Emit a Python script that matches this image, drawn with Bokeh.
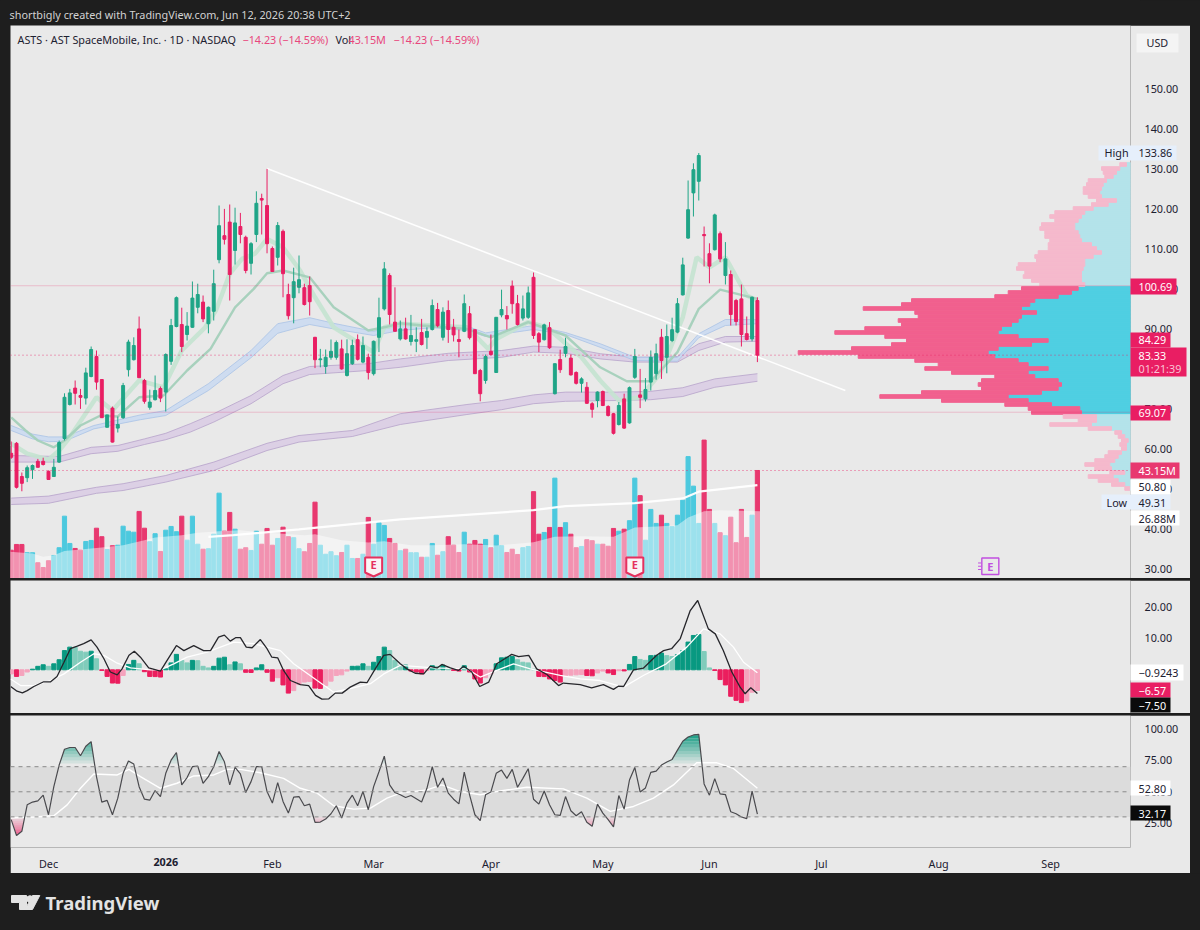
import numpy as np
from bokeh.core.properties import value
from bokeh.embed import file_html
from bokeh.layouts import column
from bokeh.models import (ColumnDataSource, FixedTicker, Label, PrintfTickFormatter,
                          Range1d, Span)
from bokeh.plotting import figure
from bokeh.resources import INLINE

FONT = "Noto Sans"
FS = "10.8px"

bar_index = list(range(-7, 134))
opens = [58.8,61.3,53,52.7,54.7,56.8,56.8,54.3,53,56.6,62.5,71,75.1,73.25,72.6,78,83,77.25,65.3,70.1,65.1,67.7,79.7,82.2,89.9,77,70.3,72.2,75,74.1,81.8,90.5,91,88.5,90.3,95.3,96.6,91.2,94.3,107.2,113.2,116.6,109.5,115.5,112.8,106.3,113.5,122.5,120.75,110,107.8,114.3,98.5,97.7,100.3,100.2,100.75,87.8,82.2,80.5,82.8,82.8,84.9,78.25,81.2,87.2,81.6,82.8,78.7,87.8,94.9,103.25,91.6,87.4,89.9,86.75,86.8,89,87.8,89.75,94.75,87.8,94.5,90.3,87.25,89.3,93.7,89.7,79.5,77,84.3,79,93.4,93.25,100.6,96.2,92.6,92.8,102.8,88.7,87.2,90.2,73.7,82.25,83.8,82.6,79,76.3,75.3,71.2,72,74.25,70.5,68.7,66,72.4,66.4,77.8,73.4,72.4,76.6,78.7,87.8,82.8,87,89.1,98.4,112.6,123.9,126.8,113.5,108.7,109.7,113.7,103.25,103.5,97,97.4,88.7,87.4,97]
highs = [61.75,61.6,54,55.75,56,57.4,57.7,54.5,57.4,62,73.8,74.9,77,74.9,80.2,85.5,84.5,77.25,68.4,70.5,68,76.4,87.2,87.8,93,77.4,74.7,78.25,75.5,83.8,92.4,98,95.2,94.1,101.75,101.2,98.25,95.5,104.7,120.75,119.9,121,120.2,118.9,113.2,111.6,124.3,123.7,129.9,110.5,116.6,114.75,101.2,105.2,108.25,101.2,103,87.9,84.9,84.75,87.25,87,87.2,87.3,87.2,88.5,88,83.7,87,97.7,106.6,103.8,100.3,92,92.7,93.4,90.3,92.4,90.3,97.25,96.4,95.3,97,92.4,89.75,98.5,95.6,89.7,79.9,83.5,88.5,92.8,99.7,95.6,102,98.4,98.25,100.5,104,89.1,91.2,91.6,81.2,84.7,87.7,83.5,79.3,77.8,76.6,71.6,74.3,74.5,70.8,68.9,71.6,73.7,75.5,84.9,79.9,77.6,84.5,86.2,89.9,91,92.7,97.6,107.7,127,131.3,133.86,115.5,111.3,118.7,114.25,111.6,104.5,97.4,101,93,98,97.8]
lows = [57.4,50,49.31,51.6,52.4,55.3,55.75,52.25,53,56.4,62,70.75,71,69.9,71,77.8,74.7,67.7,65.3,61.5,64,67.4,78,82,77.7,71.2,69.7,72,71.6,69.25,80.9,90.3,84.1,87,90.2,93.8,91.6,88.8,92,106.3,111,97,106,111.3,103.8,103.5,111.6,113.5,108.8,104.25,105.75,97.8,92.25,91.3,98.8,95.75,93.25,80.1,80.3,78.7,82.2,82.2,79.7,78,80.9,82,81.3,77.25,78.25,84.1,94.5,91,89.3,87,87.2,85.75,84.1,85.75,84.9,89.5,90.3,87,86.4,86.75,82.8,89.1,87.25,78.7,71.8,76.2,83.25,79,92.8,89.75,93.7,90.75,92,92.4,87.4,84.1,87,84.9,73.5,78.9,82.8,78.25,76,74,71.2,67.7,70.3,70.6,68,63.5,65.75,64.9,66.2,77.4,70.1,71.75,74.5,77.2,77.4,78.8,86.6,88.8,98.25,112.4,118,122,105.5,101.3,109.5,106.6,101,90.75,90.75,85.5,87,86.8,81.6]
closes = [57.8,50.3,51.3,55.2,55.75,55.3,56,52.25,55.3,61.5,72.8,73.9,73.8,72.8,78.9,84.75,76.6,67.7,68.4,61.6,66,75.75,86.6,85.75,77.7,71.8,71.6,74.5,72.6,83.5,90.75,97.7,85.5,90.6,97.6,98.5,92.4,95.3,101.2,115.7,112.3,103.5,116.4,113.5,104.5,111.2,121.3,122.1,111.2,104.25,115.75,103.7,93.2,101.7,102.2,96,96.7,82.2,82.4,82.8,84.3,86.5,79.9,83.7,85.75,82.3,85.75,79,86.8,92.7,104.9,93.5,89.3,89.9,87.4,88.25,87.2,86,89.25,95.75,90.7,94.1,89.75,88.4,86.75,96.2,87.7,78.7,73.7,83,83.5,92.8,94.75,92.4,96.2,91,94.9,98.9,88.25,86.6,90.9,85.2,81.2,79.7,85.5,78.4,76.3,77.4,71.3,69.8,74.1,70.75,68.25,63.8,70.75,65.1,75.2,83,72.8,74.75,82.8,83.7,82,88,89.7,96.2,105.9,119.7,129.7,133.25,113.2,105.6,118.4,107.4,107.4,93.5,91.75,88.5,87.25,97.8,83.33]
volumes = [11.3,13.6,13.6,10.3,10.3,6.3,4.4,7.1,9.2,12.3,24.9,14,12,11.3,14.8,15.2,20.1,16.7,11.6,13.1,13.3,20.9,18.9,18.5,26.8,20.1,14.7,17.9,10.8,19.3,20.8,18.7,24.9,15.3,24.9,13.7,11.7,11.9,17.7,34.1,18.9,26.4,19.7,11.7,12.3,11.2,18.9,13.7,20,13.3,16,20.5,16.7,16.3,11.9,10.7,14,30.5,13.3,9.7,10.7,9.1,10.4,13.3,8,8,9.7,24.4,13.7,22.3,21.2,16,14,11.1,11.7,10.3,10.3,8.5,8.5,14,9.3,10.7,16.7,13.3,10.4,18.5,13.7,15.2,13.7,15.6,12.3,17.3,13.1,10.4,11.7,9.6,12.3,12.8,34.7,17.7,18.4,20.4,40.1,20.4,22.3,17.7,12.3,12.8,15.5,15.1,13.7,13.7,12.9,20,18.9,19.7,23.1,40.1,33.1,15.3,27.6,22,25.3,22,20.7,25.3,31.3,48.7,36.9,22,55.3,27.6,22,18.3,17.1,24.5,14.3,27.6,16.4,25.3,43.15]

vol_ma_x = [-7.5,-3,-1,1,3,6,10,14,18,20,25,28,32,36,40,44,48,50,55,60,63,68,72,78,84,91,95,100,106,110,115,118,120,123,126,130,133.5]
vol_ma_y = [10.7,10,8.7,9.3,11,11.6,12.4,13.3,15.3,16.4,17.3,18.3,18.9,19.3,18.4,17.9,17.3,17.7,15.3,14.4,14.9,13.3,13.3,13.7,13.2,14.5,16.7,16.9,16.7,20.4,20.9,21.3,24.4,26.9,27.3,27.1,26.88]
vol_long_x = [30,34.7,47,66,91,97,110,119,122,133]
vol_long_y = [16.6,17.3,19.6,23.6,27.3,28.9,30.1,32,34.7,37.3]

fast_x = [-7,-4,0,2,4,9,12,17,21.6,25,29.4,31.4,34,36.3,38.75,41,44,47.2,50,53.5,61,63,66,72,78.5,82.5,84,90,93.5,100,103.5,107,111,114.75,119,121.6,124,127,131,133]
fast_y = [61.2,58.7,57.2,59.5,62.8,72.8,69.5,77,75.3,84.5,90.3,94.5,103.7,107.4,108.7,112.4,110.3,104.5,97.8,90.3,84.1,90.3,91.2,90.75,90.3,84.9,87.4,91.6,90.3,82.8,77,72,72.8,78.7,92.8,107.8,105.3,107.8,98.25,97]
mid_x = [-7,-4.3,-2,1,3,6,9.75,13,17,21.6,26,30.4,35,38.5,41,44,49,53.5,60,63,66,70,78.5,83,90,97,103.5,108.5,113,118,122,126,133]
mid_y = [67.8,64.5,62,60.3,62,65.75,68.25,68,72.8,73.25,79.5,84.9,95.3,99.9,103.8,104.5,102.8,95.3,89.5,90.3,91.3,90.75,89.9,87.8,91.6,88.25,80.3,76.8,76.8,84.1,94.9,99.7,97.4]
blue_x = [-7,-3,0,3,8.5,17.25,22,30,38,43,49,53.5,61,66,72,78.5,82,91,97,103.5,110,118,122,127,133]
blue_hi = [65.75,63.6,62.9,62.9,65.75,68.4,69.5,76.2,84.5,91.2,92.7,91.3,89.3,90.75,91,90.6,88.9,90.75,89,86.2,82.8,82.8,88.7,92.25,92.2]
blue_lo = [64.5,62.4,61.7,61.8,64.9,67.2,68.25,74.5,82.7,88.8,91,89.9,88.25,89.5,90.2,89.5,88,89.75,88.5,85.3,82,81.8,87.7,90.75,91.2]
ma100_x = [-7,2,8,13,18,22,26.6,31,38,44,49,60,66,75,85,91,97,103.5,110,118,122,127,133]
ma100_hi = [58.25,58,60.3,60.75,62.4,63.8,66.2,68.7,73.25,78.25,80.5,81.2,82.4,83.8,84.5,85.6,85.3,83.7,82.8,83,86.2,88,88]
ma100_lo = [56.6,56.6,58.7,59.3,61,62.2,64.1,66.6,71.2,76.2,78.5,79.5,80.3,82,82.8,84.1,83.8,82.4,81.6,81.6,84.5,86.6,86.8]
ma200_x = [-7,0,4,9,14,22,31,41,47,57,66,78.5,85,91,97,106.6,113,119,125,133]
ma200_hi = [47.6,48.1,49.1,50.3,51.2,53.25,56.6,61.3,63.25,64.5,68.7,71,72,73.4,74.1,74.1,74.3,75.2,77.4,78.7]
ma200_lo = [46,46.3,47.4,48.8,49.5,51.6,54.5,59.5,61.6,63,66,68.5,69.7,71.2,71.8,72,72.2,73,75.3,76.8]

trend_x = [41, 149.5]
trend_y = [130, 74.5]

vp_rows = list(range(131, 49, -1))
vp_total = [10.7,29,27.3,25.7,42.3,44,47.3,47.3,42.3,34,39,57.3,75.7,80.7,75.7,89,90.7,85.7,85.7,80.7,82.3,82.3,92.3,95.7,94,112.3,114,105.7,107.3,99,90.7,109,122.3,135.7,219,229,267.3,215.7,212.3,232.3,229,265.7,295.7,245.7,224,239,279,332.3,272.3,215.7,192.3,205.7,179,135.7,149,152.3,149,209,250.7,189,125.7,102.3,99,67.3,52.3,80.7,42.3,15.7,12.3,9,10.7,9,22.3,25.7,35.7,45.7,35.7,20.7,42.3,32.3,19,5.7]
vp_up = [4,10.7,14,17.3,24,27.3,29,30.7,29,14,22.3,37.3,45.7,49,52.3,55.7,55.7,52.3,50.7,49,39,34,29,37.3,45.7,45.7,47.3,49,49,49,45.7,52.3,59,72.3,95.7,100.7,109,94,109,112.3,119,129,132.3,112.3,82.3,99,132.3,142.3,135.7,112.3,102.3,82.3,102.3,95.7,72.3,69,72.3,89,122.3,102.3,79,50.7,49,34,34,39,19,9,5.7,2.3,4,4,9,12.3,15.7,20.7,19,5.7,17.3,12.3,5.7,0.7]

macd_hist = [-1.3,-2.1,-1.8,-0.7,0.2,1.1,1.6,1.1,1.9,3.2,6.1,7.2,7.1,5.9,5.6,5.9,3.5,-0.2,-2.1,-4.2,-4.25,-1.8,1.7,3,1.9,-0.6,-2.1,-2.15,-2.3,0.3,2.2,4.9,3,2.2,3,2.9,1.1,0.6,1.1,3.7,4,1.6,2.5,1.9,-0.8,-0.85,0.6,1.6,-0.8,-3.6,-2.5,-4.8,-7.4,-6.6,-4.7,-3.9,-3.7,-5.8,-5.9,-5,-3.6,-1.8,-1.6,-0.4,1.1,1.15,1.9,1.1,2.4,4.2,7.2,6.1,3,1.4,1.5,-0.4,-0.7,-1.3,-0.2,1.3,1,1.5,0.6,-0.2,-0.4,1.3,-0.7,-2.9,-4.2,-2.5,-1.3,1.9,3.8,4,4.2,3.2,2.4,2.2,0.2,-2.1,-2.15,-2.9,-3.4,-3.9,-1.8,-1.7,-1.6,-1.5,-1.8,-1.9,-1,-0.4,-1,-1.5,-0.3,-0.35,1.7,4.2,3.3,3,4.5,4.6,5.3,4.5,4.2,4.8,6.1,8.8,10.9,11.2,5.8,0.6,-0.2,-3.1,-4.8,-8.4,-9.7,-10.4,-9.9,-7.1,-6.57]
macd_x = [-7.1,-5.9,-4.9,-4,-2.75,-0.9,0.4,1.6,2.9,4.1,5.4,6.6,8,9.1,10.4,11.6,12.9,13.8,15.1,16.1,17.25,18.8,21,22.25,24,25.4,27.25,29.1,30.4,31.9,33,34.1,35.1,36,37.1,38.2,39.75,41,41.9,43,44.1,45.4,47.25,48.8,50.1,51.3,52.6,53.8,55.1,56.6,58.5,59.75,61.3,62.9,64.1,66,67.25,68.8,70.4,71.6,72.9,73.8,75.4,76.9,77.9,79.4,80.9,82.6,84.1,86.9,88.2,90.1,91.6,93.5,95.7,96.6,99.75,101.9,104.1,106,106.9,107.9,109.75,111.6,114.1,115.4,116.9,118.5,120.4,121.8,123.8,125.1,126.6,128.2,129.75,130.7,131.75,133]
macd_y = [-5.3,-6.8,-7.3,-6.6,-5.3,-3.8,-3.8,-2.1,2.4,6.7,7.5,8.3,9.5,7.2,3.5,-0.7,-1.6,0.3,4.6,5.9,4,0.6,-0.4,3,7.7,6.1,7.7,6.1,6.1,10.4,11,9.1,10.2,10.2,7.2,7,9.6,6.7,4,3.8,-0.2,-3.4,-4.7,-5,-8.1,-9.3,-9.2,-7.4,-7.4,-5.5,-3.9,-4.1,0.3,4.6,4.9,1.9,0.3,-1.1,-1.3,1.1,0.6,1.7,0.6,-0.2,1.1,-0.7,-5.3,-3.9,1.9,4.9,4.2,4.6,0.3,-1.5,-5,-4.2,-4.7,-5.7,-4.7,-6.2,-5.2,-5.3,0,0.5,4.6,6.1,6.7,9.8,18.8,22,13,11.4,6.1,-0.7,-5.5,-7.6,-5.7,-7.5]
signal_x = [-7.1,-5.25,-2.75,0.4,2.9,6,8.5,10.4,12.9,15.4,19.1,21,23.5,26,29.75,34.75,38.5,43.5,46,50.4,53.5,56.6,60.4,62.9,66,72.25,78.5,81,84.1,87.25,90.4,96,99.75,103.5,107.9,111.6,115.9,119.75,122.9,126,128.5,130.4,133]
signal_y = [-2.9,-5,-5,-3.4,-1.3,2.4,5.1,4.6,2.1,0.6,0,0,1.9,4,5.6,8.8,8.3,6.1,1.9,-3.4,-7.1,-6,-4.4,-1.3,1.4,0.6,0.3,-2.3,-0.2,1.9,0.3,-1.8,-2.9,-3.4,-5.5,-1.8,1.9,7.2,13,11.4,7.2,2.4,-0.92]

rsi = [27.8,15.1,18.5,39.6,41.8,42.8,47.3,31.7,54.1,71.3,83.9,85.3,85.3,78.7,86.3,90,62.1,41.8,43.1,31.7,44.9,64.7,74.5,72.1,54.1,44.1,43.3,51,46.2,64.7,75.2,81.3,55.5,61.3,70,70.5,56.8,62.1,70,82.1,73.9,55.5,69.4,64.2,49.4,58.1,70,70,50.2,41,57.3,42.3,33,45.7,46.2,38.9,40.2,25.7,25.9,28.3,32.5,38.9,29.1,41,47.3,38.9,50.2,35.7,54.1,66,78.4,55.5,49.4,47.6,45.4,47,44.4,41.8,52.8,70,53.6,61,48.9,44.1,40.4,65.7,47.6,31.7,27,47.6,49.9,64.7,67.3,60.7,67.9,53.6,60.7,68.4,44.1,40.2,50.7,39.6,31.7,31.2,46.2,34.9,30.9,34.1,25.7,22.5,40.2,33,27.8,22,47,36.2,59.4,69.4,49.9,53.1,65.5,66.5,71.3,73.7,75.8,83.2,90.3,93.7,95.3,95.8,56.3,47.3,60.5,48.3,47.8,34.1,32.5,29.9,28.6,50.5,32.17]
rsi_ma_x = [-7.1,-2.75,1,3.5,6,8.5,12.9,15.1,17.25,21,24.1,27.25,31,33.5,36,39.75,44.1,47.25,50.4,53.5,57.25,60.4,63.5,66,71,73.8,77.25,81,84.75,89.75,96.6,101,105.4,109.75,113.5,117.25,121.6,125.4,128.5,133]
rsi_ma_y = [29.1,29.9,30.9,39.6,52.8,64.2,63.4,67.9,62.1,52.8,56.8,62.6,63.4,67.9,67.9,65.2,60.7,52.8,48.9,38.9,36.2,37,44.9,48.9,51.5,55.5,50.2,47.6,50.7,53.6,52.3,44.9,34.4,38.3,44.9,55.5,73.1,73.1,68.6,52.8]

time_ticks = [0, 42, 61, 83, 104, 124, 145, 167, 188]
time_labels = ["Dec", "Feb", "Mar", "Apr", "May", "Jun", "Jul", "Aug", "Sep"]
year_tick = 22
year_label = "2026"
price_ticks = list(range(30, 160, 10))
macd_ticks = [10, 20]
rsi_ticks = [25, 50, 75, 100]
earnings_bars = [61, 110]
future_earnings_bar = 176.7

BG = "#e9e9e9"; DARK = "#1e1e1e"; UP = "#1fa587"; DOWN = "#e91e63"
VOL_UP = "#4cc9de"; VOL_DOWN = "#e8386f"; TEXT = "#1c2030"
XR = (-7.13, 203.0)
PX_PER_BAR = 5.33
PX_PER_VOL = 2.503


def panel(height, yr, ticks, fmt, border_bottom=0, top_margin=0):
    f = figure(width=1180, height=height, x_range=Range1d(*XR), y_range=Range1d(*yr),
               y_axis_location="right", x_axis_location=None if border_bottom == 0 else "below",
               output_backend="svg", toolbar_location=None, background_fill_color=BG,
               border_fill_color=BG, outline_line_color=None, min_border_left=0,
               min_border_right=60, min_border_top=0, min_border_bottom=border_bottom,
               margin=(top_margin, 0, 0, 10))
    f.grid.visible = False
    ax = f.yaxis[0]
    ax.ticker = FixedTicker(ticks=ticks)
    ax.formatter = PrintfTickFormatter(format=fmt)
    ax.axis_line_color = None
    ax.major_tick_line_color = None
    ax.minor_tick_line_color = None
    ax.major_label_standoff = 8
    ax.major_label_text_font = FONT
    ax.major_label_text_font_size = FS
    ax.major_label_text_color = TEXT
    return f


# ------------------------------------------------------------------ header
# the column aligns every figure's frame to the panes' 60 px right border, hence 0..1140
head = figure(width=1200, height=25, x_range=Range1d(0, 1140), y_range=Range1d(25, 0),
              x_axis_location=None, y_axis_location=None, output_backend="svg",
              toolbar_location=None, background_fill_color=DARK, border_fill_color=DARK,
              outline_line_color=None, min_border=0)
head.grid.visible = False
head.text([9], [14], text=["shortbigly created with TradingView.com, Jun 12, 2026 20:38 UTC+2"],
          text_font=value(FONT), text_font_size="10.85px", text_color="#d2d2d2",
          text_baseline="middle")

# ------------------------------------------------------------------ price pane
price = panel(553, (27.5, 165.75), price_ticks, "%.2f")
price.extra_y_ranges = {"vol": Range1d(0, 553 / PX_PER_VOL)}
price.extra_x_ranges = {"vp": Range1d(1120, 0)}

x = np.array(bar_index, float)
o, h, l, c, vol = map(np.array, (opens, highs, lows, closes, volumes))
rising = c >= o

# volume profile
rows = np.array(vp_rows, float)
tot, up = np.array(vp_total), np.array(vp_up)
value_area = (rows >= 69) & (rows <= 100)
vp = ColumnDataSource(dict(y=rows, up=up, tot=tot,
                           cu=np.where(value_area, "#4fcfe2", "#b4e3ea"),
                           cd=np.where(value_area, "#f1608e", "#f5b9cc")))
price.hbar(y="y", left=0, right="up", height=0.92, color="cu", source=vp, x_range_name="vp")
price.hbar(y="y", left="up", right="tot", height=0.92, color="cd", source=vp, x_range_name="vp")

# volume
vs = ColumnDataSource(dict(x=x, top=vol, color=np.where(rising, VOL_UP, VOL_DOWN)))
price.vbar(x="x", top="top", bottom=0, width=0.78, color="color", source=vs, y_range_name="vol")
price.varea(vol_ma_x, y1=0, y2=vol_ma_y, color="white", alpha=0.45, y_range_name="vol")
price.line(vol_long_x, vol_long_y, color="white", line_width=2.2, alpha=0.95, y_range_name="vol")

# levels
for lvl in (100.69, 69.07):
    price.add_layout(Span(location=lvl, dimension="width", line_color="#e91e63", line_alpha=0.22,
                          line_width=1))
price.add_layout(Span(location=83.33, dimension="width", line_color="#e91e63", line_alpha=0.75,
                      line_width=1, line_dash="1 3"))
price.add_layout(Span(location=43.15, dimension="width", y_range_name="vol", line_color="#e91e63",
                      line_alpha=0.75, line_width=1, line_dash="1 3"))

# averages
for bx, hi, lo, fill, edge in ((ma200_x, ma200_hi, ma200_lo, "#d9cbe4", "#b7a3cb"),
                               (ma100_x, ma100_hi, ma100_lo, "#d9cbe4", "#b7a3cb"),
                               (blue_x, blue_hi, blue_lo, "#c9d9f1", "#aac3e6")):
    price.varea(bx, y1=lo, y2=hi, color=fill, alpha=0.85)
    price.line(bx, hi, color=edge, line_width=1, alpha=0.8)
    price.line(bx, lo, color=edge, line_width=1, alpha=0.8)
price.line(fast_x, fast_y, color="#c4e3d0", line_width=4.5, alpha=0.9)
price.line(mid_x, mid_y, color="#a4d0bb", line_width=2.4, alpha=0.95)
price.line(trend_x, trend_y, color="white", line_width=1.6, alpha=0.95)

# candles
cs = ColumnDataSource(dict(x=x, o=o, h=h, l=l, c=c, top=np.maximum(o, c), bot=np.minimum(o, c),
                           color=np.where(rising, UP, DOWN)))
price.segment("x", "h", "x", "l", color="color", line_width=1, source=cs)
price.vbar(x="x", top="top", bottom="bot", width=0.55, color="color", source=cs)


def shield(bar, color, fill, text):
    dx = 8.5 / PX_PER_BAR
    top, mid, tip = 21 / PX_PER_VOL, 6 / PX_PER_VOL, 2 / PX_PER_VOL
    price.patch([bar - dx, bar + dx, bar + dx, bar, bar - dx], [top, top, mid, tip, mid],
                fill_color=fill, line_color=color, line_width=2, y_range_name="vol")
    price.text([bar], [(top + tip) / 2 + 1], text=[text], text_color=color, text_align="center",
               text_baseline="middle", text_font=value(FONT), text_font_style="bold",
               text_font_size="11px", y_range_name="vol")


for b in earnings_bars:
    shield(b, "#e5315f", "#fbf3f5", "E")
fx = future_earnings_bar
dxf = 8.5 / PX_PER_BAR
price.patch([fx - dxf, fx + dxf, fx + dxf, fx - dxf], [1.6, 1.6, 8.2, 8.2], fill_color=None,
            line_color="#c14fe0", line_width=1.4, y_range_name="vol")
price.text([fx], [4.9], text=["E"], text_color="#c14fe0", text_align="center",
           text_baseline="middle", text_font=value(FONT), text_font_style="bold",
           text_font_size="11px", y_range_name="vol")
for yy in (3.6, 4.9, 6.2):
    price.line([fx - 2.3, fx - 1.7], [yy, yy], color="#c14fe0", line_width=1, y_range_name="vol")

# legend
for txt, px, col in (("ASTS · AST SpaceMobile, Inc. · 1D · NASDAQ", 7, TEXT),
                     ("−14.23 (−14.59%)", 232, "#e8467c"), ("Vol", 325, TEXT),
                     ("43.15M", 338, "#e8467c"), ("−14.23 (−14.59%)", 383, "#e8467c")):
    price.add_layout(Label(x=px, y=553 - 14, x_units="screen", y_units="screen", text=txt,
                           text_font=FONT, text_font_size=FS, text_color=col,
                           text_baseline="middle"))

# ------------------------------------------------------------------ MACD pane
macd = panel(133, (-13.87, 28.35), macd_ticks, "%.2f", top_margin=2)
hist = np.array(macd_hist)
prev = np.r_[hist[0], hist[:-1]]
colors = np.where(hist >= 0, np.where(hist >= prev, "#089981", "#80ccbb"),
                  np.where(hist < prev, "#eb1e5e", "#f5a3bd"))
macd.vbar(x=x, top=hist, bottom=0, width=0.78, color=colors)
macd.line(signal_x, signal_y, color="white", line_width=1.3)
macd.line(macd_x, macd_y, color="#26262b", line_width=1.3)

# ------------------------------------------------------------------ RSI pane
rsip = panel(158, (5.6, 110.8), rsi_ticks, "%.2f", border_bottom=25, top_margin=2)
ax0 = rsip.xaxis[0]
ax0.ticker = FixedTicker(ticks=time_ticks)
ax0.major_label_overrides = dict(zip(time_ticks, time_labels))
ax0.major_label_standoff = 2
ax0.axis_line_color = None
ax0.major_tick_line_color = None
ax0.minor_tick_line_color = None
ax0.major_label_text_font = FONT
ax0.major_label_text_font_size = FS
ax0.major_label_text_color = TEXT
rsip.varea(XR, y1=[30, 30], y2=[70, 70], color="#dcdcdc")
for lvl in (70, 50, 30):
    rsip.add_layout(Span(location=lvl, dimension="width", line_color="#8a8a8a", line_width=1,
                         line_dash="4 4"))
fine = np.arange(-7, 133.01, 0.05)
rsi_fine = np.interp(fine, x, rsi)
for a, b in zip(np.arange(70, 100, 2.5), np.arange(72.5, 102.5, 2.5)):
    rsip.varea(fine, y1=np.minimum(rsi_fine, a), y2=np.minimum(rsi_fine, b), color="#0f9a80",
               alpha=float(min(1, (a - 70) / 25)))
for a, b in zip(np.arange(30, 14, -1.5), np.arange(28.5, 12.5, -1.5)):
    rsip.varea(fine, y1=np.maximum(rsi_fine, a), y2=np.maximum(rsi_fine, b), color="#ec4d82",
               alpha=float(min(1, (30 - a) / 17 + 0.1)))
rsip.line(rsi_ma_x, rsi_ma_y, color="white", line_width=1.4)
rsip.line(x, rsi, color="#4a4a4e", line_width=1.2)

# ------------------------------------------------------------------ footer
foot = figure(width=1200, height=57, x_range=Range1d(0, 1140), y_range=Range1d(930, 873),
              x_axis_location=None, y_axis_location=None, output_backend="svg",
              toolbar_location=None, background_fill_color=DARK, border_fill_color=DARK,
              outline_line_color=None, min_border=0)
foot.grid.visible = False
LOGO = "#e3e3e3"
foot.patch([11, 26, 26, 19, 19, 11], [895, 895, 909, 909, 902, 902], color=LOGO)
foot.patch([39.3, 32, 24.5, 32], [895, 909, 909, 895], color=LOGO)
foot.circle([29.5], [898.5], radius=3.3, color=LOGO)
foot.text([45], [902], text=["TradingView"], text_font=value(FONT), text_font_style="bold",
          text_font_size="18.5px", text_color=LOGO, text_baseline="middle")

# ------------------------------------------------------------------ scale tags: a transparent
# layer over the whole page, in page pixels (labels of a pane are clipped to its frame)
tags = figure(width=1200, height=930, x_range=Range1d(0, 1200), y_range=Range1d(930, 0),
              x_axis_location=None, y_axis_location=None, output_backend="svg",
              toolbar_location=None, background_fill_color=None, border_fill_color=None,
              outline_line_color=None, min_border=0,
              styles={"position": "absolute", "left": "0px", "top": "0px"})
tags.grid.visible = False
W = "#ffffff"; R = "#e91e63"; T = "#e6effb"; K = "#0b0b0b"; V = "#e8386f"
tag_boxes = [
    (1136, 1178, 33, 52, "#f4f4f4"), (1098, 1176, 145, 160, T), (1130, 1176, 278, 294, R),
    (1130, 1170, 332, 347, R), (1130, 1186, 347, 376, R), (1130, 1170, 405, 420, R),
    (1130, 1179, 462, 478, V), (1130, 1170, 479, 494, W), (1101, 1170, 494, 509, T),
    (1130, 1179, 510, 525, W), (1130, 1183, 664, 680, W), (1130, 1170, 682, 697, R),
    (1130, 1170, 697, 712, K), (1130, 1170, 780, 795, W), (1130, 1170, 805, 820, K),
]
tags.quad(left=[b[0] for b in tag_boxes], right=[b[1] for b in tag_boxes],
          top=[b[2] for b in tag_boxes], bottom=[b[3] for b in tag_boxes],
          fill_color=[b[4] for b in tag_boxes], line_color=None)
tag_texts = [
    ("USD", 1146, 42, TEXT), ("High", 1104, 152, TEXT), ("133.86", 1138, 152, TEXT),
    ("100.69", 1138, 286, "white"), ("84.29", 1138, 339, "white"), ("83.33", 1138, 355, "white"),
    ("01:21:39", 1138, 368, "#f9c4d5"), ("69.07", 1138, 412, "white"), ("43.15M", 1138, 470, "white"),
    ("50.80", 1138, 486, TEXT), ("Low", 1106, 502, TEXT), ("49.31", 1138, 502, TEXT),
    ("26.88M", 1138, 518, TEXT), ("−0.9243", 1138, 672, TEXT), ("−6.57", 1138, 690, "white"),
    ("−7.50", 1138, 705, "white"), ("52.80", 1138, 788, TEXT), ("32.17", 1138, 813, "white"),
]
tags.text([t[1] for t in tag_texts], [t[2] for t in tag_texts], text=[t[0] for t in tag_texts],
          text_color=[t[3] for t in tag_texts], text_font=value(FONT), text_font_size=FS,
          text_baseline="middle")
tags.text([48 + year_tick * PX_PER_BAR], [861], text=[year_label], text_color=TEXT,
          text_font=value(FONT), text_font_size=FS, text_font_style="bold", text_align="center",
          text_baseline="middle")

page = column(head, price, macd, rsip, foot, spacing=0)
html = file_html((page, tags), INLINE, title="ASTS")
html = html.replace("</head>", "<style>html,body{background:#1e1e1e !important;overflow:hidden}</style></head>", 1)
open("out.html", "w").write(html)
